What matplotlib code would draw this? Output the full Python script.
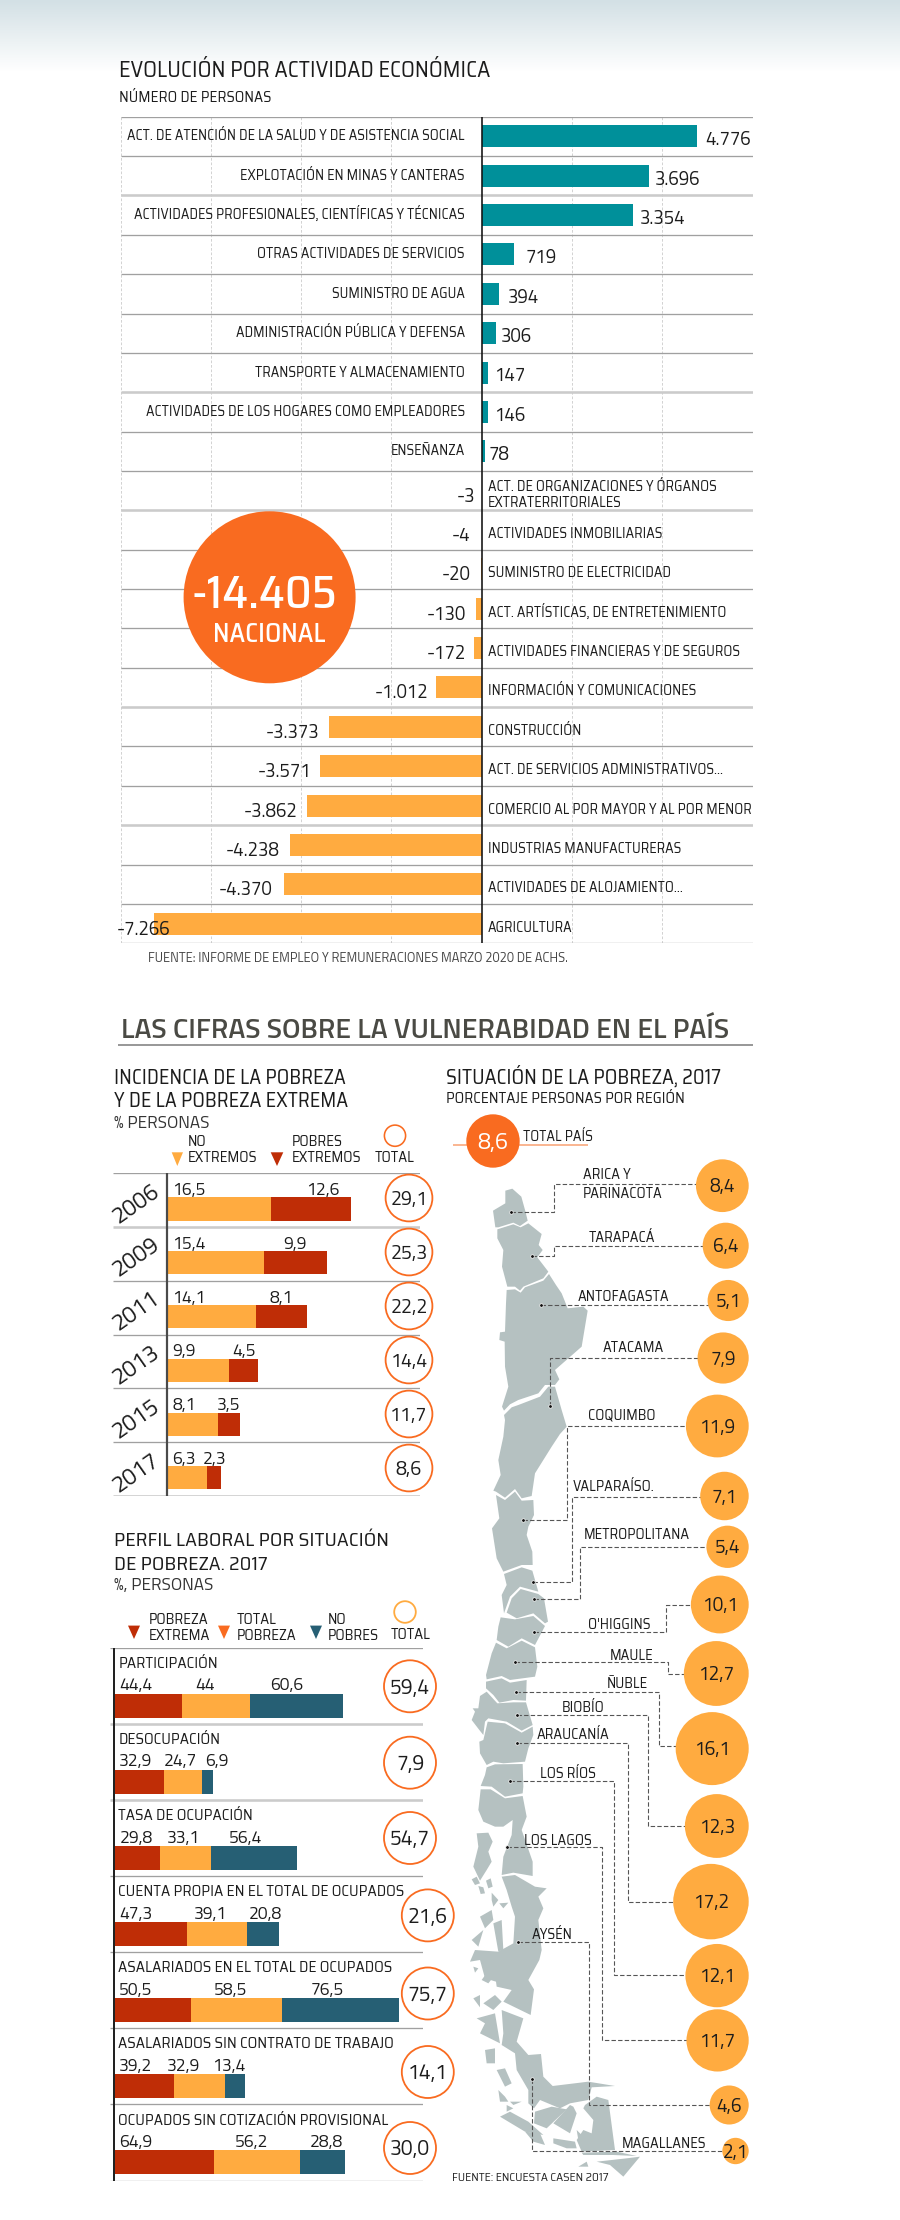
import numpy as np
import matplotlib
matplotlib.use("Agg")
import matplotlib.pyplot as plt
from matplotlib.font_manager import FontProperties
from matplotlib.textpath import TextPath

LABF = ["Saira SemiCondensed", "Liberation Sans", "DejaVu Sans"]
NUMF = ["Titillium Web", "Liberation Sans", "DejaVu Sans"]
plt.rcParams["font.family"] = LABF

# --- evolucion por actividad
act_pos = ["ACT. DE ATENCIÓN DE LA SALUD Y DE ASISTENCIA SOCIAL", "EXPLOTACIÓN EN MINAS Y CANTERAS",
           "ACTIVIDADES PROFESIONALES, CIENTÍFICAS Y TÉCNICAS", "OTRAS ACTIVIDADES DE SERVICIOS",
           "SUMINISTRO DE AGUA", "ADMINISTRACIÓN PÚBLICA Y DEFENSA", "TRANSPORTE Y ALMACENAMIENTO",
           "ACTIVIDADES DE LOS HOGARES COMO EMPLEADORES", "ENSEÑANZA"]
val_pos = [4776, 3696, 3354, 719, 394, 306, 147, 146, 78]
act_neg = ["ACT. DE ORGANIZACIONES Y ÓRGANOS\nEXTRATERRITORIALES", "ACTIVIDADES INMOBILIARIAS",
           "SUMINISTRO DE ELECTRICIDAD", "ACT. ARTÍSTICAS, DE ENTRETENIMIENTO",
           "ACTIVIDADES FINANCIERAS Y DE SEGUROS", "INFORMACIÓN Y COMUNICACIONES", "CONSTRUCCIÓN",
           "ACT. DE SERVICIOS ADMINISTRATIVOS...", "COMERCIO AL POR MAYOR Y AL POR MENOR",
           "INDUSTRIAS MANUFACTURERAS", "ACTIVIDADES DE ALOJAMIENTO...", "AGRICULTURA"]
val_neg = [-3, -4, -20, -130, -172, -1012, -3373, -3571, -3862, -4238, -4370, -7266]
total_nacional = "-14.405"

# --- incidencia de la pobreza
years = ["2006", "2009", "2011", "2013", "2015", "2017"]
no_extremos = [16.5, 15.4, 14.1, 9.9, 8.1, 6.3]
extremos = [12.6, 9.9, 8.1, 4.5, 3.5, 2.3]
total_pobreza = [29.1, 25.3, 22.2, 14.4, 11.7, 8.6]

# --- perfil laboral
perfil = ["PARTICIPACIÓN", "DESOCUPACIÓN", "TASA DE OCUPACIÓN", "CUENTA PROPIA EN EL TOTAL DE OCUPADOS",
          "ASALARIADOS EN EL TOTAL DE OCUPADOS", "ASALARIADOS SIN CONTRATO DE TRABAJO",
          "OCUPADOS SIN COTIZACIÓN PROVISIONAL"]
pobreza_extrema = [44.4, 32.9, 29.8, 47.3, 50.5, 39.2, 64.9]
pobreza_total = [44, 24.7, 33.1, 39.1, 58.5, 32.9, 56.2]
no_pobres = [60.6, 6.9, 56.4, 20.8, 76.5, 13.4, 28.8]
perfil_total = [59.4, 7.9, 54.7, 21.6, 75.7, 14.1, 30.0]

# --- regiones
regiones = ["ARICA Y\nPARINACOTA", "TARAPACÁ", "ANTOFAGASTA", "ATACAMA", "COQUIMBO", "VALPARAÍSO.",
            "METROPOLITANA", "O'HIGGINS", "MAULE", "ÑUBLE", "BIOBÍO", "ARAUCANÍA", "LOS RÍOS",
            "LOS LAGOS", "AYSÉN", "MAGALLANES"]
region_val = [8.4, 6.4, 5.1, 7.9, 11.9, 7.1, 5.4, 10.1, 12.7, 16.1, 12.3, 17.2, 12.1, 11.7, 4.6, 2.1]
total_pais = 8.6

# layout, in pixels of the page
bubble_y = [1185.7, 1245.7, 1300.5, 1358, 1426, 1496, 1546.8, 1604.5, 1673.5, 1748.6, 1826, 1901.6,
            1975.6, 2040.4, 2105, 2151]
label_xy = [(582.7, 1174), (588.3, 1236.4), (578, 1295.4), (602.7, 1346.4), (588.3, 1414.3), (572.7, 1485.4),
            (583.3, 1534.3), (588.3, 1624), (609.7, 1655), (606.7, 1683.3), (561.3, 1707.3), (536.7, 1734.3),
            (540, 1772.7), (524.3, 1839.6), (531.7, 1933.5), (622, 2142.5)]
leaders = [
    [(510.7, 1212), (554.3, 1212), (554.3, 1183.6)],
    [(532, 1256), (554.3, 1256), (554.3, 1245.7)],
    [(540.7, 1305)],
    [(549.7, 1406), (549.7, 1358.2)],
    [(522.7, 1520), (566.7, 1520), (566.7, 1426.4)],
    [(532.7, 1582), (572.3, 1582), (572.3, 1496.8)],
    [(534, 1599.2), (579.7, 1599.2), (579.7, 1546.8)],
    [(533.7, 1631.8), (666.3, 1631.8), (666.3, 1604.5)],
    [(515.3, 1662.4), (668.3, 1662.4), (668.3, 1673.5)],
    [(515.7, 1692.2), (658.7, 1692.2), (658.7, 1745.7)],
    [(517, 1715), (647.7, 1715), (647.7, 1826)],
    [(517, 1743.3), (628, 1743.3), (628, 1902)],
    [(510, 1781.2), (614.3, 1781.2), (614.3, 1975)],
    [(507, 1847), (602.3, 1847), (602.3, 2040)],
    [(518, 1941.6), (589, 1941.6), (589, 2105.3)],
    [(532, 2078.8), (532, 2150.6)],
]
neg_pad = [6.5, 11, 10, 9.5, 7.7, 7.7, 10, 9.3, 10, 10.5, 12, -17]
pos_pad = [8, 6.5, 7, 11, 8, 5, 5.5, 5.5, 3.5]
ext_pad = [-12, -20, -14, -2, 0, 5]
perfil_lab2 = [205, 180.7, 183.7, 210.3, 231, 184, 251.3]
perfil_lab3 = [287, 217.3, 245.7, 265.7, 327, 229, 326.7]
perfil_cx = [410, 410, 410, 427.8, 427.8, 427.8, 410]
perfil_cy = [1686.3, 1762.7, 1838, 1915.4, 1993.5, 2072, 2148]

TEAL = "#00909A"
AMBER = "#FFAB40"
ORANGE = "#F96B20"
RED = "#BF2D06"
BLUE = "#265F74"
INK = "#1c1c1c"
GREY_MAP = "#B5C1C1"
PX = 0.72

W, H = 900, 2220
fig = plt.figure(figsize=(W / 100, H / 100), dpi=100, facecolor="white")


def box(x0, y0, x1, y1, z=1):
    a = fig.add_axes([x0 / W, 1 - y1 / H, (x1 - x0) / W, (y1 - y0) / H], zorder=z)
    a.axis("off")
    return a


def fit(s, width, family=LABF, weight="normal"):
    # font size in pixels that gives s the width seen in the picture
    ext = TextPath((0, 0), s, size=100, prop=FontProperties(family=family, weight=weight)).get_extents()
    return 100 * width / ext.width


def lab(ax, x, y, s, size, dx=0, dy=0, ha="left", color=INK, **kw):
    # x, y in data units of ax; dy measured to the middle of the capitals
    return ax.annotate(s, (x, y), xytext=(dx * PX, -(dy + 0.35 * size) * PX), textcoords="offset points",
                       fontsize=size * PX, ha=ha, va="baseline", color=color, annotation_clip=False, **kw)


def pct(v):
    return f"{v:.1f}".replace(".", ",")


def pct_short(v):
    return f"{v:g}".replace(".", ",")


def miles(v):
    return f"{v:,}".replace(",", ".")


def rules(ax, x0, x1, n, thick):
    for i in range(n + 1):
        if i in thick:
            ax.hlines(i, x0, x1, color="#CBCBCB", lw=2.6 * PX, zorder=1)
        else:
            ax.hlines(i, x0, x1, color="#A0A0A0", lw=1.3 * PX, zorder=1)


# background gradient
back = box(0, 0, W, 72, z=0)
back.imshow(np.linspace(0, 1, 72).reshape(-1, 1), aspect="auto", extent=(0, W, 72, 0),
            cmap=matplotlib.colors.LinearSegmentedColormap.from_list("top", ["#D3E0E5", "#FFFFFF"]))

front = box(0, 0, W, H, z=5)
front.set_xlim(0, W)
front.set_ylim(H, 0)

# ---------- chart 1
ax1 = box(120.5, 116.7, 752.6, 943.3, z=2)
ax1.set_xlim(-8000, 6000)
ax1.set_ylim(21, 0)
rules(ax1, -8000, 6000, 21, [2, 7, 10, 15, 18])
for g in [-8000, -6000, -4000, -2000, 2000, 4000, 6000]:
    ax1.vlines(g, 0, 21, color="#CFCFCF", lw=0.9 * PX, linestyles=(0, (3, 2)), zorder=0)

ypos = np.arange(len(val_pos)) + 0.5
ax1.barh(ypos, val_pos, height=0.56, color=TEAL, zorder=2)
yneg = np.arange(len(val_neg)) + len(val_pos) + 0.5
ax1.barh(yneg, val_neg, height=0.56, color=AMBER, zorder=2)
ax1.vlines(0, 0, 21, color="#111111", lw=1.6 * PX, zorder=3)

LS = fit(act_pos[0], 338)
for y, name, v, pad in zip(ypos, act_pos, val_pos, pos_pad):
    lab(ax1, 0, y, name, LS, dx=-17, dy=-1, ha="right")
    lab(ax1, v, y, miles(v), 18.6, dx=pad, dy=2.3, family=NUMF)
for y, name, v, pad in zip(yneg, act_neg, val_neg, neg_pad):
    if "\n" in name:
        a, b = name.split("\n")
        lab(ax1, 0, y, a, LS, dx=6, dy=-5)
        lab(ax1, 0, y, b, LS, dx=6, dy=11)
    else:
        lab(ax1, 0, y, name, LS, dx=6, dy=3)
    lab(ax1, v, y, miles(v), 18.6, dx=-pad, dy=4.5, ha="right", family=NUMF)

lab(front, 118.7, 69, "EVOLUCIÓN POR ACTIVIDAD ECONÓMICA", fit("EVOLUCIÓN POR ACTIVIDAD ECONÓMICA", 369))
lab(front, 118.7, 96.7, "NÚMERO DE PERSONAS", fit("NÚMERO DE PERSONAS", 150))
front.add_patch(plt.Circle((269.6, 597.3), 86, fc=ORANGE, ec="none", zorder=3))
lab(front, 264, 592, total_nacional, fit(total_nacional, 141, weight="medium"), ha="center", color="white",
    fontweight="medium", zorder=4)
lab(front, 269.6, 633, "NACIONAL", fit("NACIONAL", 110, weight="medium"), ha="center", color="white",
    fontweight="medium", zorder=4)
source1 = "FUENTE: INFORME DE EMPLEO Y REMUNERACIONES MARZO 2020 DE ACHS."
lab(front, 148, 958, source1, fit(source1, 417, NUMF), color="#444444", family=NUMF)

# ---------- section header
header = "LAS CIFRAS SOBRE LA VULNERABIDAD EN EL PAÍS"
lab(front, 121, 1028, header, fit(header, 606, NUMF, "semibold"), color="#4A4A44", fontweight="semibold", family=NUMF)
front.hlines(1045, 118, 752.7, color="#999999", lw=2 * PX)

# ---------- chart 2
ax2 = box(113.3, 1173.3, 420, 1496, z=2)
ax2.set_xlim(-8.44, 40)
ax2.set_ylim(6, 0)
rules(ax2, -8.44, 40, 6, [1, 6])
y2 = np.arange(len(years)) + 0.664
ax2.barh(y2, no_extremos, height=0.43, color=AMBER, zorder=2)
ax2.barh(y2, extremos, left=no_extremos, height=0.43, color=RED, zorder=2)
ax2.vlines(0, 0, 6, color="#4A4A4A", lw=2.2 * PX, zorder=3)

for i, yr in enumerate(years):
    lab(ax2, 0, i, pct(no_extremos[i]), 17.5, dx=5.5, dy=15.7, family=NUMF)
    lab(ax2, no_extremos[i] + extremos[i], i, pct(extremos[i]), 17.5, dx=ext_pad[i], dy=15.7, ha="right", family=NUMF)
    ax2.text(-4.9, i + 0.57, yr, fontsize=23 * PX, rotation=35, ha="center", va="center", color=INK,
             rotation_mode="anchor", family=NUMF)
    cy = 1198 + 54 * i
    front.add_patch(plt.Circle((409, cy), 23.4, fc="white", ec=ORANGE, lw=1.8 * PX, zorder=3))
    lab(front, 409, cy, pct(total_pobreza[i]), 19.5, ha="center", zorder=4, family=NUMF)

T2 = fit("INCIDENCIA DE LA POBREZA", 228.7)
lab(front, 114, 1077, "INCIDENCIA DE LA POBREZA", T2)
lab(front, 114, 1100, "Y DE LA POBREZA EXTREMA", T2)
lab(front, 114, 1121.7, "% PERSONAS", fit("% PERSONAS", 94, NUMF), color="#333333", family=NUMF)
LG = fit("EXTREMOS", 68)
lab(front, 188, 1140.7, "NO", LG)
lab(front, 188, 1157, "EXTREMOS", LG)
lab(front, 291.3, 1140.7, "POBRES", LG)
lab(front, 291.3, 1157, "EXTREMOS", LG)
lab(front, 394.3, 1157, "TOTAL", LG, ha="center")
front.fill([171.7, 183, 177.3], [1152.3, 1152.3, 1166], color=AMBER, ec="none")
front.fill([270.7, 283.3, 277], [1152.3, 1152.3, 1166], color=RED, ec="none")
front.add_patch(plt.Circle((395, 1135.7), 10.6, fc="white", ec=ORANGE, lw=1.6 * PX))

# ---------- chart 3
ax3 = box(110, 1647.5, 423, 2180.5, z=2)
ax3.set_xlim(-2.4, 200.8)
ax3.set_ylim(7, 0)
rules(ax3, -2.4, 200.8, 7, [1, 2])
y3 = np.arange(len(perfil)) + 0.762
left2 = np.array(pobreza_extrema)
left3 = left2 + np.array(pobreza_total)
ax3.barh(y3, pobreza_extrema, height=0.315, color=RED, zorder=2)
ax3.barh(y3, pobreza_total, left=left2, height=0.315, color=AMBER, zorder=2)
ax3.barh(y3, no_pobres, left=left3, height=0.315, color=BLUE, zorder=2)
ax3.vlines(0, 0, 7, color="#222222", lw=2 * PX, zorder=3)

RS = fit(perfil[3], 285)
for i, name in enumerate(perfil):
    row = 1647.5 + 76.14 * i
    lab(front, 118.3, row + 14.7, name, RS)
    lab(front, 136, row + 36.6, pct_short(pobreza_extrema[i]), 17.5, ha="center", family=NUMF)
    lab(front, perfil_lab2[i], row + 36.6, pct_short(pobreza_total[i]), 17.5, ha="center", family=NUMF)
    lab(front, perfil_lab3[i], row + 36.6, pct_short(no_pobres[i]), 17.5, ha="center", family=NUMF)
    front.add_patch(plt.Circle((perfil_cx[i], perfil_cy[i]), 26, fc="white", ec=ORANGE, lw=1.8 * PX, zorder=3))
    lab(front, perfil_cx[i], perfil_cy[i], pct(perfil_total[i]), 21, ha="center", zorder=4, family=NUMF)

T3 = fit("PERFIL LABORAL POR SITUACIÓN", 269.7)
lab(front, 114, 1539.5, "PERFIL LABORAL POR SITUACIÓN", T3)
lab(front, 114, 1562.7, "DE POBREZA. 2017", T3)
lab(front, 114, 1583.7, "%, PERSONAS", fit("%, PERSONAS", 98, NUMF), color="#333333", family=NUMF)
LG3 = fit("EXTREMA", 60)
for x, a, b in [(148.7, "POBREZA", "EXTREMA"), (237, "TOTAL", "POBREZA"), (328, "NO", "POBRES")]:
    lab(front, x, 1618.5, a, LG3)
    lab(front, x, 1634.5, b, LG3)
lab(front, 410.3, 1633.7, "TOTAL", LG3, ha="center")
for cx, col in [(134, RED), (224, ORANGE), (316, BLUE)]:
    front.fill([cx - 6, cx + 6, cx], [1625.6, 1625.6, 1639], color=col, ec="none")
front.add_patch(plt.Circle((405, 1612), 10.8, fc="white", ec=AMBER, lw=1.8 * PX))

# ---------- map, outlines
def z7(p):
    return [(x / 3 + 480, y / 3 + 1170) for x, y in p]


def z8(p):
    return [(x / 3 + 480, y / 3 + 1420) for x, y in p]


def z9(p):
    return [(x / 3 + 460, y / 3 + 1670) for x, y in p]


def z10(p):
    return [(x / 3 + 460, y / 3 + 1900) for x, y in p]


map_parts = [
    z7([(76, 62), (97, 56), (124, 80), (137, 127), (143, 152), (120, 168), (100, 158), (55, 172), (46, 172),
        (39, 122), (76, 100)]),
    z7([(52, 178), (100, 163), (122, 172), (145, 160), (185, 192), (176, 225), (188, 240), (172, 262), (205, 305),
        (190, 325), (130, 350), (120, 362), (105, 350), (82, 350), (66, 290), (70, 240), (52, 205)]),
    z7([(80, 360), (105, 358), (122, 368), (135, 352), (190, 332), (207, 312), (228, 345), (245, 370), (263, 415),
        (310, 410), (323, 422), (305, 530), (225, 600), (238, 628), (225, 645), (195, 645), (175, 670), (115, 690),
        (90, 703), (72, 722), (66, 710), (85, 650), (75, 590), (74, 515), (58, 510), (60, 487), (75, 485), (78, 400)]),
    z7([(72, 735), (95, 712), (115, 705), (180, 680), (205, 650), (225, 650), (245, 720)])
    + z8([(260, 20), (240, 42), (215, 80), (165, 160), (155, 228), (125, 235), (105, 207), (75, 233), (48, 215),
          (40, 212), (62, 165), (55, 120), (70, 50), (75, 0)]),
    z8([(48, 225), (75, 240), (105, 215), (125, 242), (160, 240), (162, 285), (145, 320), (140, 345), (157, 395),
        (158, 435), (125, 435), (70, 455), (50, 415), (36, 325), (58, 295)]),
    z8([(72, 462), (125, 442), (157, 452), (175, 515), (120, 500), (90, 530), (72, 580), (65, 525), (80, 495)]),
    z8([(122, 507), (175, 522), (192, 535), (204, 605), (195, 610), (160, 580), (110, 595), (80, 578), (95, 535)]),
    z8([(62, 592), (105, 598), (160, 588), (195, 618), (165, 675), (125, 655), (85, 680), (50, 660), (55, 620)]),
    z8([(48, 668), (80, 685), (125, 662), (165, 682), (172, 740)])
    + z9([(225, 20), (150, 30), (125, 18), (80, 28)]) + z8([(18, 765), (35, 700)]),
    z9([(78, 35), (125, 25), (150, 38), (200, 30), (198, 92), (160, 90), (118, 98), (100, 75), (78, 55)]),
    z9([(60, 78), (80, 65), (112, 100), (160, 97), (198, 97), (218, 165), (185, 182), (140, 155), (85, 145), (75, 155),
        (70, 195), (58, 180), (35, 150), (45, 125), (38, 115), (55, 115)]),
    z9([(83, 155), (135, 160), (185, 188), (218, 170), (220, 195), (205, 235), (195, 275), (130, 280), (100, 275),
        (80, 285), (60, 250), (58, 215), (70, 210)]),
    z9([(80, 292), (105, 283), (188, 282), (190, 350), (188, 370), (135, 380), (95, 350), (62, 348), (75, 315)]),
    z9([(62, 358), (92, 358), (135, 385), (188, 378), (200, 440), (185, 480), (218, 575), (218, 618), (160, 608),
        (125, 615), (130, 560), (155, 495), (158, 450), (130, 470), (105, 470), (70, 455), (55, 420)]),
    z9([(50, 490), (85, 488), (98, 515), (85, 545), (95, 575), (80, 600), (60, 632), (40, 590), (55, 530)]),
    z9([(35, 628), (50, 620), (60, 640), (45, 645)]),
    z9([(78, 632), (92, 625), (98, 650), (85, 655)]),
    z9([(55, 648), (70, 652), (75, 670), (62, 672)]),
    z9([(95, 668), (115, 690), (100, 710), (95, 690)]),
    z9([(118, 700), (145, 698), (130, 715)]),
    z10([(125, -70), (165, -75), (225, -40), (260, -35), (235, -10), (250, 25), (235, 60), (245, 150), (238, 180),
         (205, 240), (222, 268), (212, 345), (130, 305), (155, 270), (110, 260), (108, 245), (75, 235), (60, 180),
         (30, 185), (45, 150), (115, 155), (160, 130), (165, 50), (155, 20), (140, -30)]),
    z10([(35, 120), (70, 90), (55, 140)]),
    z10([(60, 50), (95, 30), (100, 60), (75, 85)]),
    z10([(100, 70), (125, 60), (130, 150), (115, 155)]),
    z10([(40, 200), (55, 205), (45, 218)]),
    z10([(65, 240), (90, 205), (105, 225), (85, 250)]),
    z10([(40, 295), (60, 285), (60, 322)]),
    z10([(70, 310), (105, 285), (125, 305), (100, 330)]),
    z10([(50, 355), (105, 340), (120, 430), (100, 420), (60, 400), (75, 370)]),
    z10([(125, 330), (190, 355), (170, 425), (205, 465), (243, 462), (250, 530), (278, 558), (385, 545), (465, 558),
         (395, 562), (385, 600), (330, 610), (300, 625), (240, 600), (222, 625), (205, 610), (205, 570), (170, 510),
         (165, 460), (125, 435), (130, 400)]),
    z10([(375, 615), (410, 590), (445, 600), (465, 750), (365, 755), (350, 720), (370, 690), (395, 700), (400, 660),
         (370, 625)]),
    z10([(330, 615), (280, 670), (330, 700), (350, 640), (340, 620)]),
    z10([(225, 635), (275, 620), (320, 628), (260, 685), (222, 670)]),
    z10([(120, 650), (150, 635), (205, 665), (250, 705), (195, 695)]),
    z10([(195, 695), (240, 700), (255, 735), (220, 725)]),
    z10([(280, 715), (345, 725), (350, 745), (320, 745), (280, 730)]),
    z10([(350, 690), (365, 705), (370, 725), (355, 720)]),
    z10([(365, 758), (470, 755), (530, 768), (460, 765), (370, 765)]),
    z10([(410, 785), (500, 775), (540, 770), (490, 830), (450, 795)]),
    z10([(355, 800), (380, 785), (385, 800)]),
    z10([(75, 450), (105, 445), (105, 490), (80, 490)]),
    z10([(110, 510), (135, 505), (155, 550), (135, 560)]),
    z10([(115, 570), (135, 590), (145, 605), (120, 605)]),
    z10([(140, 615), (160, 625), (140, 635)]),
    z10([(150, 605), (185, 605), (160, 615)]),
]
for part in map_parts:
    xs, ys = zip(*part)
    front.fill(xs, ys, color=GREY_MAP, ec="none", zorder=1)

title4 = "SITUACIÓN DE LA POBREZA, 2017"
sub4 = "PORCENTAJE PERSONAS POR REGIÓN"
lab(front, 446, 1077, title4, fit(title4, 272.7))
lab(front, 446, 1098, sub4, fit(sub4, 237))
front.hlines(1144.6, 453, 587.7, color="#F9A070", lw=1.5 * PX, zorder=1)
front.add_patch(plt.Circle((493, 1141), 9.1 * np.sqrt(total_pais), fc=ORANGE, ec="none", zorder=3))
lab(front, 493, 1141, pct(total_pais), 23, ha="center", color="white", zorder=4, family=NUMF)
lab(front, 522.7, 1135.7, "TOTAL PAÍS", fit("TOTAL PAÍS", 69))

MS = fit("METROPOLITANA", 105)
right_edge = 748.7
for i, name in enumerate(regiones):
    r = 9.1 * np.sqrt(region_val[i])
    cx = right_edge - r
    cy = bubble_y[i]
    pts = leaders[i] + [(cx, leaders[i][-1][1])]
    xs, ys = zip(*pts)
    front.plot(xs, ys, color="#555555", lw=1.1 * PX, ls=(0, (4, 2)), zorder=2)
    front.plot(xs[0], ys[0], "o", color="#111111", ms=3.6 * PX, mec="white", mew=0.5, zorder=3)
    front.add_patch(plt.Circle((cx, cy), r, fc=AMBER, ec="none", zorder=3))
    lab(front, cx, cy, pct(region_val[i]), 19, ha="center", zorder=4, family=NUMF)
    x, y = label_xy[i]
    if "\n" in name:
        a, b = name.split("\n")
        lab(front, x, y, a, MS, zorder=4)
        lab(front, x, y + 18.5, b, MS, zorder=4)
    else:
        lab(front, x, y, name, MS, zorder=4)

source2 = "FUENTE: ENCUESTA CASEN 2017"
lab(front, 451.7, 2177, source2, fit(source2, 156), color="#222222")

fig.savefig("out.png", dpi=100)
